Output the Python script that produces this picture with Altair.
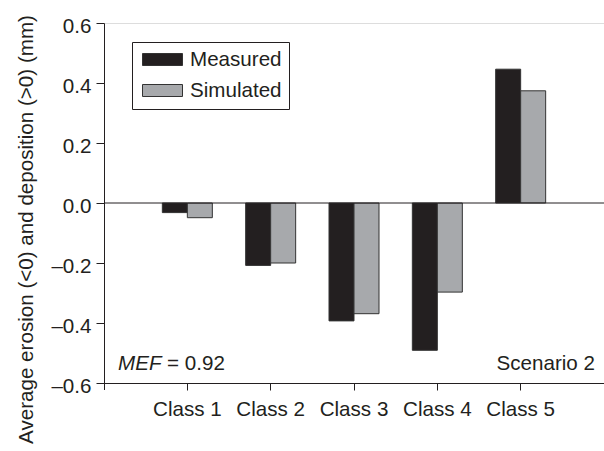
import altair as alt
import pandas as pd

classes = ["Class 1", "Class 2", "Class 3", "Class 4", "Class 5"]
measured = [-0.032, -0.208, -0.393, -0.491, 0.446]
simulated = [-0.049, -0.200, -0.369, -0.297, 0.374]
series = ["Measured", "Simulated"]
colors = ["#231f20", "#a7a9ac"]
y_ticks = [-0.6, -0.4, -0.2, 0.0, 0.2, 0.4, 0.6]

rows = []
for c, m, s in zip(classes, measured, simulated):
    rows.append({"cls": c, "series": "Measured", "value": m})
    rows.append({"cls": c, "series": "Simulated", "value": s})
df = pd.DataFrame(rows)

FONT = "Liberation Sans"
TXT = "#231f20"
FS = 20.6

W, H = 500, 360

x_enc = alt.X("cls:N", sort=classes,
              scale=alt.Scale(paddingInner=0.4, paddingOuter=0.7),
              axis=alt.Axis(title=None, labelAngle=0, labelFontSize=FS, labelFont=FONT,
                            labelColor=TXT, tickSize=7, tickColor=TXT, domainColor=TXT,
                            labelPadding=9, grid=False))

bars = alt.Chart(df).mark_bar(stroke="#333333", strokeWidth=1).encode(
    x=x_enc,
    xOffset=alt.XOffset("series:N", sort=series, scale=alt.Scale(paddingInner=0, paddingOuter=0)),
    y=alt.Y("value:Q",
            scale=alt.Scale(domain=[-0.6, 0.6], nice=False, zero=False),
            axis=alt.Axis(values=y_ticks, grid=False,
                          labelExpr="(datum.value < -0.001 ? '\u2013' : '') + format(abs(datum.value), '.1f')",
                          title="Average erosion (<0) and deposition (>0) (mm)",
                          titleFont=FONT, titleFontSize=FS, titleFontWeight="normal",
                          titleColor=TXT, titleX=-72, titleY=206, titleAngle=270,
                          titleBaseline="alphabetic", titleAlign="center",
                          labelFontSize=FS, labelFont=FONT, labelColor=TXT,
                          labelOffset=3,
                          tickSize=8, tickColor=TXT, domainColor=TXT, labelPadding=5)),
    color=alt.Color("series:N", sort=series,
                    scale=alt.Scale(domain=series, range=colors),
                    legend=alt.Legend(title=None, orient="none", legendX=28, legendY=19,
                                      padding=7, strokeColor="#231f20", fillColor="white",
                                      symbolType="M-2,-0.6L2,-0.6L2,0.6L-2,0.6Z",
                                      symbolSize=400, symbolOffset=13,
                                      symbolStrokeColor="#333333", symbolStrokeWidth=1,
                                      symbolOpacity=1,
                                      labelFont=FONT, labelFontSize=FS, labelColor=TXT,
                                      labelOffset=17, rowPadding=9)),
)

zero_line = alt.Chart(pd.DataFrame({"z": [0.0]})).mark_rule(color=TXT, strokeWidth=1).encode(
    y=alt.Y("z:Q")
)

extra_tick = alt.Chart(pd.DataFrame({"z": [0]})).mark_rule(color=TXT, strokeWidth=1).encode(
    x=alt.value(0.5), y=alt.value(H), y2=alt.value(H + 7)
)

mef = alt.Chart(pd.DataFrame({"t": ["MEF"]})).mark_text(
    font=FONT, fontSize=FS, fontStyle="italic", color=TXT, align="left", baseline="alphabetic"
).encode(x=alt.value(14), y=alt.value(347), text="t:N")

mef_val = alt.Chart(pd.DataFrame({"t": ["= 0.92"]})).mark_text(
    font=FONT, fontSize=FS, color=TXT, align="left", baseline="alphabetic"
).encode(x=alt.value(63), y=alt.value(347), text="t:N")

scen = alt.Chart(pd.DataFrame({"t": ["Scenario 2"]})).mark_text(
    font=FONT, fontSize=FS, color=TXT, align="right", baseline="alphabetic"
).encode(x=alt.value(491), y=alt.value(347), text="t:N")

chart = alt.layer(bars, zero_line, extra_tick, mef, mef_val, scen).properties(
    width=W, height=H,
    autosize=alt.AutoSizeParams(type="none"),
    padding={"left": 104, "top": 23, "right": 0, "bottom": 68},
).configure_view(stroke=None).configure(background="white")

chart.save("out.html", embed_options={"renderer": "svg", "actions": False})
